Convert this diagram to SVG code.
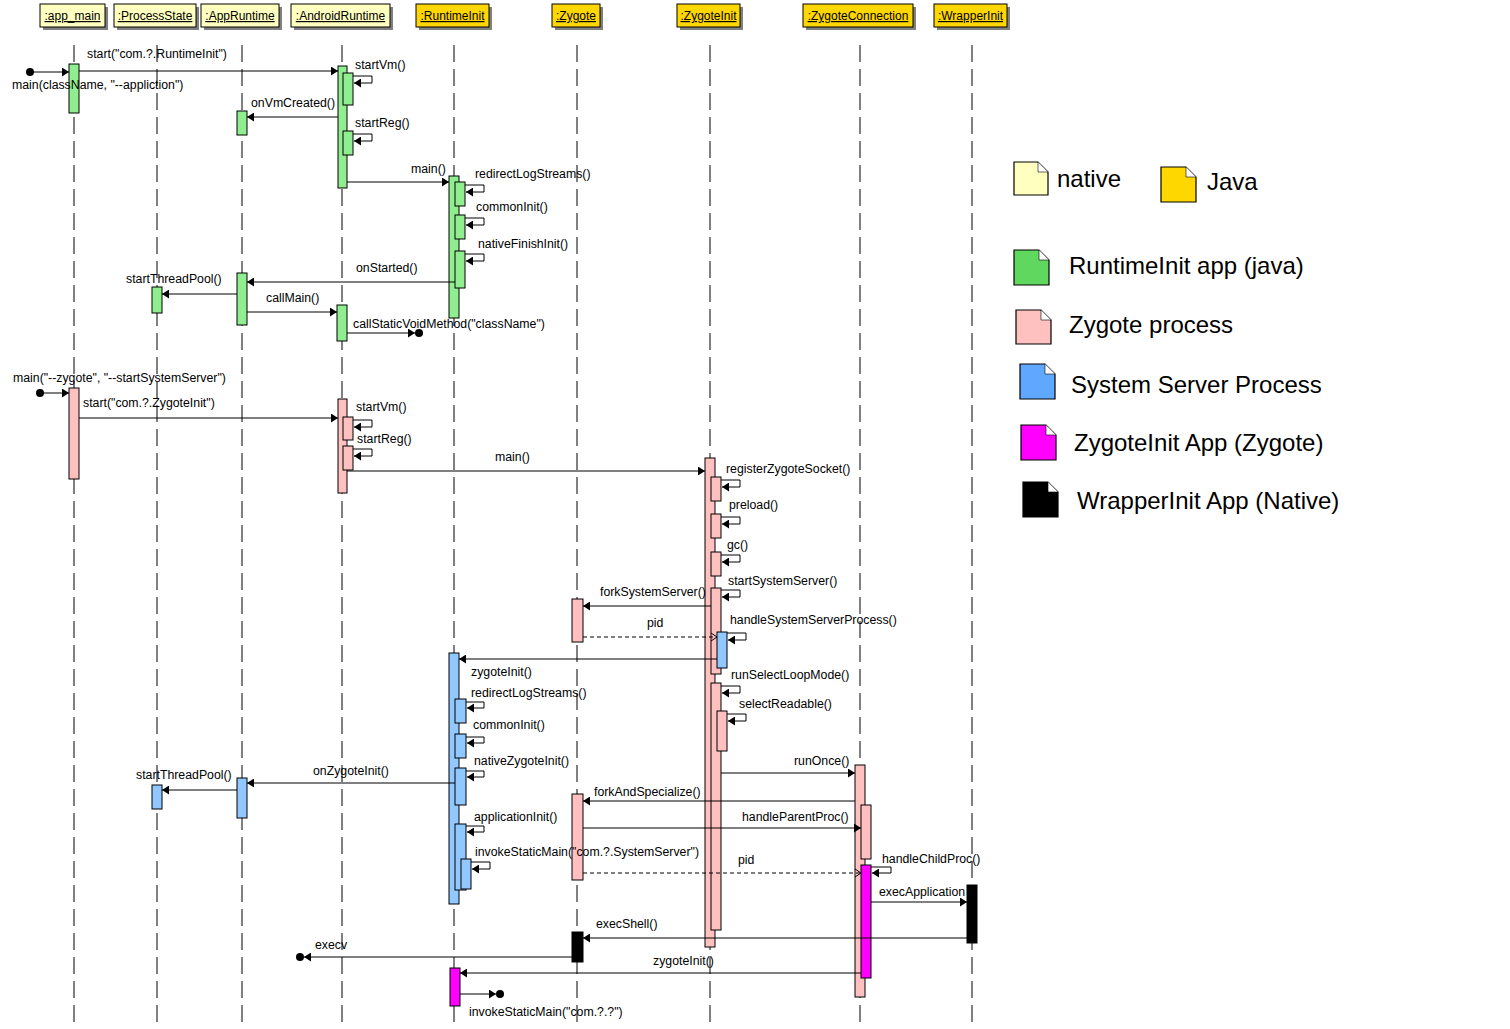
<svg xmlns="http://www.w3.org/2000/svg" width="1510" height="1029" viewBox="0 0 1510 1029">
<defs>
<style>
text{font-family:"Liberation Sans",Arial,sans-serif;font-size:12.3px;fill:#000}
.hd{text-decoration:underline;text-anchor:middle;font-size:12px}
.sh{fill:#808080}
.nat{fill:#FFFFC0;stroke:#000;stroke-width:1}
.jav{fill:#FFD700;stroke:#000;stroke-width:1}
.ll{stroke:#000;stroke-width:1;stroke-dasharray:17 7;fill:none}
.g{fill:#90EE90;stroke:#000;stroke-width:1}
.p{fill:#FFC0C0;stroke:#000;stroke-width:1}
.b{fill:#90C8FF;stroke:#000;stroke-width:1}
.m{fill:#FF00FF;stroke:#000;stroke-width:1}
.k{fill:#000;stroke:#000;stroke-width:1}
.msg{stroke:#000;stroke-width:1;fill:none;marker-end:url(#ah)}
.ret{stroke:#000;stroke-width:1;fill:none;stroke-dasharray:4 3;marker-end:url(#oa)}
.lg{font-size:24px}
.note{stroke:#000;stroke-width:1.2}
</style>
<marker id="ah" markerWidth="8" markerHeight="9" refX="7" refY="4.5" orient="auto" markerUnits="userSpaceOnUse"><path d="M0,0 L7,4.5 L0,9 z" fill="#000"/></marker>
<marker id="oa" markerWidth="8" markerHeight="10" refX="6" refY="5" orient="auto" markerUnits="userSpaceOnUse"><path d="M0,1 L6,5 L0,9" fill="none" stroke="#000" stroke-width="1"/></marker>
</defs>
<rect width="1510" height="1029" fill="#fff"/>

<g id="participants">
<g id="p-app_main"><rect class="sh" x="43" y="7" width="65" height="23"/><rect class="nat" x="40" y="4" width="65" height="23"/><text class="hd" x="72.5" y="20">:app_main</text><line class="ll" x1="74" y1="45" x2="74" y2="1024"/></g>
<g id="p-ProcessState"><rect class="sh" x="117" y="7" width="82" height="23"/><rect class="nat" x="114" y="4" width="82" height="23"/><text class="hd" x="155" y="20">:ProcessState</text><line class="ll" x1="157" y1="45" x2="157" y2="1024"/></g>
<g id="p-AppRuntime"><rect class="sh" x="204" y="7" width="78" height="23"/><rect class="nat" x="201" y="4" width="78" height="23"/><text class="hd" x="240" y="20">:AppRuntime</text><line class="ll" x1="242" y1="45" x2="242" y2="1024"/></g>
<g id="p-AndroidRuntime"><rect class="sh" x="294" y="7" width="99" height="23"/><rect class="nat" x="291" y="4" width="99" height="23"/><text class="hd" x="340.5" y="20">:AndroidRuntime</text><line class="ll" x1="342" y1="45" x2="342" y2="1024"/></g>
<g id="p-RuntimeInit"><rect class="sh" x="419" y="7" width="73" height="23"/><rect class="jav" x="416" y="4" width="73" height="23"/><text class="hd" x="452.5" y="20">:RuntimeInit</text><line class="ll" x1="454" y1="45" x2="454" y2="1024"/></g>
<g id="p-Zygote"><rect class="sh" x="555" y="7" width="48" height="23"/><rect class="jav" x="552" y="4" width="48" height="23"/><text class="hd" x="576" y="20">:Zygote</text><line class="ll" x1="577" y1="45" x2="577" y2="1024"/></g>
<g id="p-ZygoteInit"><rect class="sh" x="680" y="7" width="63" height="23"/><rect class="jav" x="677" y="4" width="63" height="23"/><text class="hd" x="708.5" y="20">:ZygoteInit</text><line class="ll" x1="710" y1="45" x2="710" y2="1024"/></g>
<g id="p-ZygoteConnection"><rect class="sh" x="806" y="7" width="110" height="23"/><rect class="jav" x="803" y="4" width="110" height="23"/><text class="hd" x="858" y="20">:ZygoteConnection</text><line class="ll" x1="860" y1="45" x2="860" y2="1024"/></g>
<g id="p-WrapperInit"><rect class="sh" x="937" y="7" width="73" height="23"/><rect class="jav" x="934" y="4" width="73" height="23"/><text class="hd" x="970.5" y="20">:WrapperInit</text><line class="ll" x1="972" y1="45" x2="972" y2="1024"/></g>
</g>

<g id="activations">
<rect id="a1" class="g" x="69" y="64" width="10" height="49"/>
<rect id="a2" class="g" x="338" y="66" width="9" height="122"/>
<rect id="a3" class="g" x="343" y="73" width="10" height="32"/>
<rect id="a4" class="g" x="237" y="111" width="10" height="24"/>
<rect id="a5" class="g" x="343" y="131" width="10" height="24"/>
<rect id="a6" class="g" x="449" y="176" width="10" height="142"/>
<rect id="a7" class="g" x="455" y="182" width="10" height="24"/>
<rect id="a8" class="g" x="455" y="215" width="10" height="24"/>
<rect id="a9" class="g" x="455" y="251" width="10" height="37"/>
<rect id="a10" class="g" x="237" y="273" width="10" height="52"/>
<rect id="a11" class="g" x="152" y="287" width="10" height="26"/>
<rect id="a12" class="g" x="337" y="305" width="10" height="36"/>

<rect id="b1" class="p" x="69" y="388" width="10" height="91"/>
<rect id="b2" class="p" x="338" y="399" width="9" height="94"/>
<rect id="b3" class="p" x="343" y="417" width="10" height="23"/>
<rect id="b4" class="p" x="343" y="446" width="10" height="24"/>
<rect id="b5" class="p" x="705" y="458" width="10" height="489"/>
<rect id="b6" class="p" x="711" y="477" width="10" height="24"/>
<rect id="b7" class="p" x="711" y="514" width="10" height="24"/>
<rect id="b8" class="p" x="711" y="552" width="10" height="24"/>
<rect id="b9" class="p" x="711" y="588" width="10" height="86"/>
<rect id="b10" class="p" x="572" y="599" width="11" height="43"/>
<rect id="c1" class="b" x="717" y="632" width="10" height="36"/>
<rect id="b11" class="p" x="711" y="683" width="10" height="247"/>
<rect id="b12" class="p" x="717" y="711" width="10" height="40"/>
<rect id="c2" class="b" x="449" y="653" width="10" height="251"/>
<rect id="c3" class="b" x="455" y="699" width="11" height="24"/>
<rect id="c4" class="b" x="455" y="734" width="11" height="24"/>
<rect id="c5" class="b" x="455" y="768" width="11" height="37"/>
<rect id="c6" class="b" x="237" y="778" width="10" height="40"/>
<rect id="c7" class="b" x="152" y="785" width="10" height="24"/>
<rect id="c8" class="b" x="455" y="824" width="11" height="66"/>
<rect id="c9" class="b" x="461" y="859" width="10" height="30"/>
<rect id="b13" class="p" x="855" y="765" width="10" height="232"/>
<rect id="b14" class="p" x="572" y="794" width="11" height="86"/>
<rect id="b15" class="p" x="861" y="805" width="10" height="54"/>
<rect id="m1" class="m" x="861" y="865" width="10" height="113"/>
<rect id="k1" class="k" x="967" y="885" width="10" height="58"/>
<rect id="k2" class="k" x="572" y="932" width="11" height="30"/>
<rect id="m2" class="m" x="450" y="968" width="10" height="38"/>
</g>

<g id="connectors">
<circle cx="30" cy="72" r="4" fill="#000"/>
<line class="msg" x1="30" y1="72" x2="69" y2="72"/>
<line class="msg" x1="79" y1="71" x2="338" y2="71"/>
<path class="msg" d="M353,76 H372 V83 H354"/>
<line class="msg" x1="338" y1="117" x2="247" y2="117"/>
<path class="msg" d="M353,134 H372 V141 H354"/>
<line class="msg" x1="347" y1="182" x2="449" y2="182"/>
<path class="msg" d="M465,185 H484 V192 H466"/>
<path class="msg" d="M465,218 H484 V225 H466"/>
<path class="msg" d="M465,254 H484 V261 H466"/>
<line class="msg" x1="455" y1="282" x2="247" y2="282"/>
<line class="msg" x1="237" y1="294" x2="162" y2="294"/>
<line class="msg" x1="247" y1="312" x2="337" y2="312"/>
<line class="msg" x1="347" y1="333" x2="415" y2="333"/>
<circle cx="419" cy="333" r="4" fill="#000"/>

<circle cx="40" cy="393" r="4" fill="#000"/>
<line class="msg" x1="40" y1="393" x2="69" y2="393"/>
<line class="msg" x1="79" y1="418" x2="338" y2="418"/>
<path class="msg" d="M353,420 H372 V427 H354"/>
<path class="msg" d="M353,449 H372 V456 H354"/>
<line class="msg" x1="347" y1="471" x2="705" y2="471"/>
<path class="msg" d="M721,480 H740 V487 H722"/>
<path class="msg" d="M721,517 H740 V524 H722"/>
<path class="msg" d="M721,555 H740 V562 H722"/>
<path class="msg" d="M721,590 H740 V597 H722"/>
<line class="msg" x1="711" y1="606" x2="583" y2="606"/>
<line class="ret" x1="583" y1="637" x2="717" y2="637"/>
<path class="msg" d="M727,633 H746 V640 H728"/>
<line class="msg" x1="717" y1="659" x2="459" y2="659"/>
<path class="msg" d="M721,686 H740 V693 H722"/>
<path class="msg" d="M727,714 H746 V721 H728"/>
<path class="msg" d="M466,702 H484 V708 H467"/>
<path class="msg" d="M466,737 H484 V743 H467"/>
<path class="msg" d="M466,771 H484 V777 H467"/>
<line class="msg" x1="455" y1="783" x2="247" y2="783"/>
<line class="msg" x1="237" y1="790" x2="162" y2="790"/>
<path class="msg" d="M466,826 H484 V832 H467"/>
<path class="msg" d="M471,862 H490 V869 H472"/>
<line class="msg" x1="721" y1="773" x2="855" y2="773"/>
<line class="msg" x1="855" y1="801" x2="583" y2="801"/>
<line class="msg" x1="583" y1="828" x2="861" y2="828"/>
<line class="ret" x1="583" y1="873" x2="861" y2="873"/>
<path class="msg" d="M871,867 H891 V873 H872"/>
<line class="msg" x1="871" y1="902" x2="967" y2="902"/>
<line class="msg" x1="967" y1="938" x2="583" y2="938"/>
<line class="msg" x1="572" y1="957" x2="304" y2="957"/>
<circle cx="300" cy="957" r="4" fill="#000"/>
<line class="msg" x1="861" y1="973" x2="460" y2="973"/>
<line class="msg" x1="460" y1="994" x2="496" y2="994"/>
<circle cx="500" cy="994" r="4" fill="#000"/>
</g>

<g id="labels">
<text x="12" y="89">main(className, "--appliction")</text>
<text x="87" y="58">start("com.?.RuntimeInit")</text>
<text x="355" y="69">startVm()</text>
<text x="251" y="107">onVmCreated()</text>
<text x="355" y="127">startReg()</text>
<text x="411" y="173">main()</text>
<text x="475" y="178">redirectLogStreams()</text>
<text x="476" y="211">commonInit()</text>
<text x="478" y="248">nativeFinishInit()</text>
<text x="356" y="272">onStarted()</text>
<text x="126" y="283">startThreadPool()</text>
<text x="266" y="302">callMain()</text>
<text x="353" y="328">callStaticVoidMethod("className")</text>
<text x="13" y="382">main("--zygote", "--startSystemServer")</text>
<text x="83" y="407">start("com.?.ZygoteInit")</text>
<text x="356" y="411">startVm()</text>
<text x="357" y="443">startReg()</text>
<text x="495" y="461">main()</text>
<text x="726" y="473">registerZygoteSocket()</text>
<text x="729" y="509">preload()</text>
<text x="727" y="549">gc()</text>
<text x="728" y="585">startSystemServer()</text>
<text x="600" y="596">forkSystemServer()</text>
<text x="647" y="627">pid</text>
<text x="730" y="624">handleSystemServerProcess()</text>
<text x="731" y="679">runSelectLoopMode()</text>
<text x="471" y="676">zygoteInit()</text>
<text x="471" y="697">redirectLogStreams()</text>
<text x="739" y="708">selectReadable()</text>
<text x="473" y="729">commonInit()</text>
<text x="474" y="765">nativeZygoteInit()</text>
<text x="313" y="775">onZygoteInit()</text>
<text x="136" y="779">startThreadPool()</text>
<text x="794" y="765">runOnce()</text>
<text x="594" y="796">forkAndSpecialize()</text>
<text x="474" y="821">applicationInit()</text>
<text x="742" y="821">handleParentProc()</text>
<text x="475" y="856">invokeStaticMain("com.?.SystemServer")</text>
<text x="738" y="864">pid</text>
<text x="882" y="863">handleChildProc()</text>
<text x="879" y="896">execApplication</text>
<text x="596" y="928">execShell()</text>
<text x="315" y="949">execv</text>
<text x="653" y="965">zygoteInit()</text>
<text x="469" y="1016">invokeStaticMain("com.?.?")</text>
</g>

<g id="legend">
<g id="lg-native"><path class="note" fill="#FFFFC0" d="M1014,162 H1038 L1048,172 V195 H1014 Z"/><path d="M1038,162 V172 H1048" fill="#fff" stroke="#000" stroke-width="0.6"/><text class="lg" x="1057" y="187">native</text></g>
<g id="lg-java"><path class="note" fill="#FFD700" d="M1161,167 H1186 L1196,177 V202 H1161 Z"/><path d="M1186,167 V177 H1196" fill="#fff" stroke="#000" stroke-width="0.6"/><text class="lg" x="1207" y="190">Java</text></g>
<g id="lg-green"><path class="note" fill="#60D860" d="M1014,250 H1039 L1049,260 V285 H1014 Z"/><path d="M1039,250 V260 H1049" fill="#fff" stroke="#000" stroke-width="0.6"/><text class="lg" x="1069" y="274">RuntimeInit app (java)</text></g>
<g id="lg-pink"><path class="note" fill="#FFC0C0" d="M1016,310 H1041 L1051,320 V344 H1016 Z"/><path d="M1041,310 V320 H1051" fill="#fff" stroke="#000" stroke-width="0.6"/><text class="lg" x="1069" y="333">Zygote process</text></g>
<g id="lg-blue"><path class="note" fill="#60A8FF" d="M1020,364 H1045 L1055,374 V399 H1020 Z"/><path d="M1045,364 V374 H1055" fill="#fff" stroke="#000" stroke-width="0.6"/><text class="lg" x="1071" y="393">System Server Process</text></g>
<g id="lg-magenta"><path class="note" fill="#FF00FF" d="M1021,425 H1046 L1056,435 V460 H1021 Z"/><path d="M1046,425 V435 H1056" fill="#fff" stroke="#000" stroke-width="0.6"/><text class="lg" x="1074" y="451">ZygoteInit App (Zygote)</text></g>
<g id="lg-black"><path class="note" fill="#000" d="M1023,482 H1048 L1058,492 V517 H1023 Z"/><path d="M1048,482 V492 H1058" fill="#fff" stroke="#000" stroke-width="0.6"/><text class="lg" x="1077" y="509">WrapperInit App (Native)</text></g>
</g>
</svg>
